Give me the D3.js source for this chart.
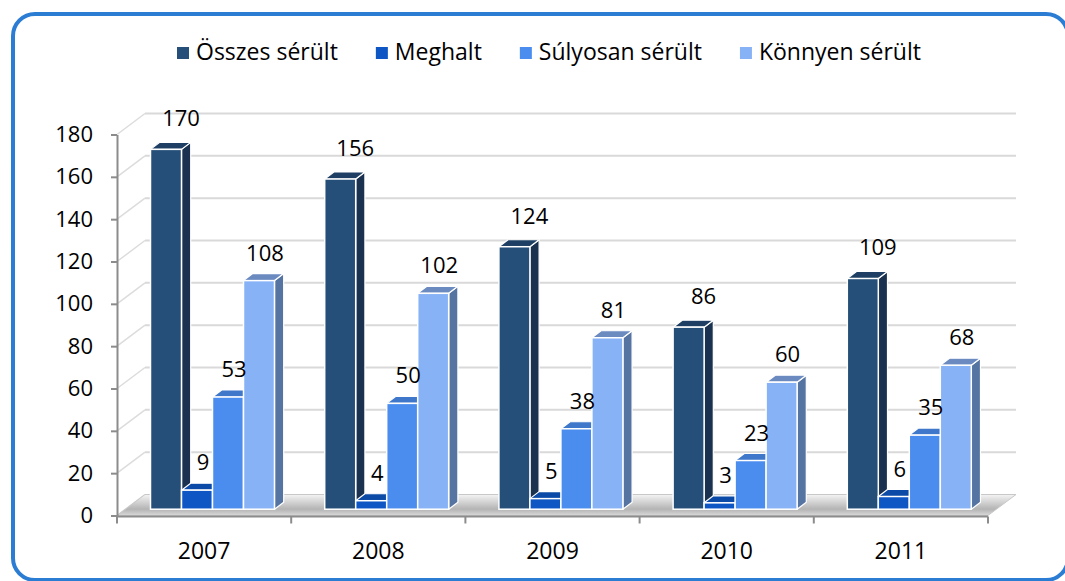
<!DOCTYPE html>
<html>
<head>
<meta charset="utf-8">
<script src="https://cdn.jsdelivr.net/npm/d3@7"></script>
<style>
  html, body { margin: 0; padding: 0; background: #ffffff; }
  svg { display: block; }
  text { font-family: "Open Sans", "Liberation Sans", sans-serif; fill: #000; }
</style>
</head>
<body>
<svg id="chart" width="1065" height="581"></svg>
<script>
// ---- data ----
const years = ["2007", "2008", "2009", "2010", "2011"];
const seriesNames = ["Összes sérült", "Meghalt", "Súlyosan sérült", "Könnyen sérült"];
const osszesSerult = [170, 156, 124, 86, 109];
const meghalt = [9, 4, 5, 3, 6];
const sulyosanSerult = [53, 50, 38, 23, 35];
const konnyenSerult = [108, 102, 81, 60, 68];
const yTickValues = [0, 20, 40, 60, 80, 100, 120, 140, 160, 180];

const seriesValues = [osszesSerult, meghalt, sulyosanSerult, konnyenSerult];
const frontColors = ["#254E78", "#0D56C3", "#4A8DEE", "#87B3F6"];
const sideColors  = ["#1A3250", "#0A3E8C", "#3A6CB3", "#5674A2"];
const topColors   = ["#1E3F63", "#0B4AA6", "#3F77CA", "#6A8AC0"];

// ---- layout ----
const W = 1065, H = 581;
const svg = d3.select("#chart");
const plotLeft = 117, plotRight = 988;
const DX = 28, DY = -21;
const barOffX = 8.4, barOffY = -6.3;
const barDX = 9.2, barDY = -7;

const x = d3.scaleBand().domain(years).range([plotLeft, plotRight]);
const xs = d3.scaleBand().domain(seriesNames).range([0, x.bandwidth()]).paddingOuter(0.81);
const y = d3.scaleLinear().domain([0, 180]).range([515.5, 134.5]);

// border
svg.append("rect")
  .attr("x", 13).attr("y", 14).attr("width", 1055).attr("height", 566)
  .attr("rx", 22).attr("ry", 22)
  .attr("fill", "#fff").attr("stroke", "#2B7CD3").attr("stroke-width", 4);

// gridlines: back wall + left wall
const grid = svg.append("g");
yTickValues.forEach(v => {
  grid.append("line")
    .attr("x1", plotLeft).attr("y1", y(v))
    .attr("x2", plotLeft + DX).attr("y2", y(v) + DY)
    .attr("stroke", "#dcdcdc").attr("stroke-width", 1.5);
  if (v > 0) {
    grid.append("line")
      .attr("x1", plotLeft + DX).attr("y1", y(v) + DY)
      .attr("x2", plotRight + DX).attr("y2", y(v) + DY)
      .attr("stroke", "#d9d9d9").attr("stroke-width", 2);
  }
});

// floor
const defs = svg.append("defs");
const fg = defs.append("linearGradient").attr("id", "floorGrad")
  .attr("x1", 0).attr("y1", 0).attr("x2", 0).attr("y2", 1);
fg.append("stop").attr("offset", "0%").attr("stop-color", "#f4f4f4");
fg.append("stop").attr("offset", "70%").attr("stop-color", "#b4b4b4");
fg.append("stop").attr("offset", "100%").attr("stop-color", "#d8d8d8");
const y0 = y(0);
svg.append("path")
  .attr("d", d3.line()([[plotLeft, y0], [plotLeft + DX, y0 + DY], [plotRight + DX, y0 + DY], [plotRight, y0]]) + "Z")
  .attr("fill", "url(#floorGrad)").attr("stroke", "#c8c8c8").attr("stroke-width", 1);

// y axis
const yAxis = svg.append("g")
  .attr("transform", `translate(${plotLeft},0)`)
  .call(d3.axisLeft(y).tickValues(yTickValues).tickSize(6).tickSizeOuter(0).tickPadding(18));
yAxis.select(".domain").attr("stroke", "#8c8c8c").attr("stroke-width", 2);
yAxis.selectAll(".tick line").attr("stroke", "#8c8c8c").attr("stroke-width", 2);
yAxis.selectAll(".tick text").attr("font-size", 22).attr("font-family", "Open Sans").attr("fill", "#000");

// x axis line + category boundary ticks
const xAxisY = 516.5;
svg.append("line").attr("x1", plotLeft).attr("x2", plotRight)
  .attr("y1", xAxisY).attr("y2", xAxisY)
  .attr("stroke", "#8c8c8c").attr("stroke-width", 2);
const bounds = years.map(d => x(d)).concat([plotRight]);
svg.selectAll(".xb").data(bounds).enter().append("line")
  .attr("x1", d => d).attr("x2", d => d)
  .attr("y1", xAxisY).attr("y2", xAxisY + 7)
  .attr("stroke", "#8c8c8c").attr("stroke-width", 2);
const xAxis = svg.append("g")
  .attr("transform", `translate(0,${xAxisY})`)
  .call(d3.axisBottom(x).tickSize(0).tickPadding(26));
xAxis.select(".domain").remove();
xAxis.selectAll(".tick text").attr("font-size", 23).attr("font-family", "Open Sans").attr("fill", "#000");

// bars
const bars = svg.append("g");
years.forEach((yr, gi) => {
  seriesNames.forEach((s, si) => {
    const v = seriesValues[si][gi];
    const x0 = x(yr) + xs(s) + barOffX;
    const x1 = x0 + xs.bandwidth();
    const yt = y(v) + barOffY;
    const yb = y(0) + barOffY;
    const g = bars.append("g");
    g.append("path")
      .attr("d", d3.line()([[x1, yt], [x1 + barDX, yt + barDY], [x1 + barDX, yb + barDY], [x1, yb]]) + "Z")
      .attr("fill", sideColors[si]).attr("stroke", "#ffffff").attr("stroke-width", 1.2).attr("stroke-linejoin", "round");
    g.append("path")
      .attr("d", d3.line()([[x0, yt], [x0 + barDX, yt + barDY], [x1 + barDX, yt + barDY], [x1, yt]]) + "Z")
      .attr("fill", topColors[si]).attr("stroke", "#ffffff").attr("stroke-width", 1.2).attr("stroke-linejoin", "round");
    g.append("rect")
      .attr("x", x0).attr("y", yt).attr("width", x1 - x0).attr("height", yb - yt)
      .attr("fill", frontColors[si]).attr("stroke", "#ffffff").attr("stroke-width", 1.5);
  });
});

// value labels
const labels = svg.append("g");
years.forEach((yr, gi) => {
  seriesNames.forEach((s, si) => {
    const v = seriesValues[si][gi];
    const cx = x(yr) + xs(s) + barOffX + xs.bandwidth() / 2 + (si === 0 ? 15 : 6);
    const ty = y(v) + barOffY - (si === 0 ? 23 : 20);
    labels.append("text")
      .attr("x", cx).attr("y", ty)
      .attr("text-anchor", "middle")
      .attr("font-size", 22)
      .text(v);
  });
});

// legend
const legend = svg.append("g");
const items = seriesNames.map((name, i) => {
  const g = legend.append("g");
  g.append("rect").attr("width", 12).attr("height", 12).attr("y", -13).attr("fill", frontColors[i]);
  const t = g.append("text").attr("x", 19).attr("y", 0).attr("font-size", 23).text(name);
  return { g, w: 19 + t.node().getComputedTextLength() };
});
const gap = 38;
const total = d3.sum(items, d => d.w) + gap * (items.length - 1);
let lx = 549 - total / 2;
items.forEach(it => {
  it.g.attr("transform", `translate(${lx},60)`);
  lx += it.w + gap;
});
</script>
</body>
</html>
